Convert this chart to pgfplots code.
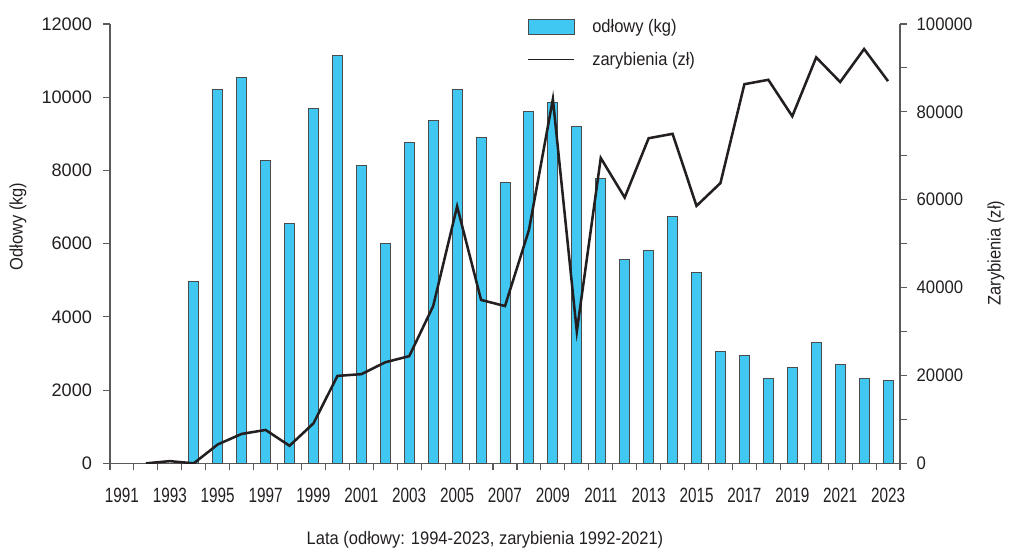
\documentclass[border=0pt]{standalone}
\usepackage{pgfplots}
\pgfplotsset{compat=1.18}
\usepackage{pgfplotstable}
\usepackage{fontspec}
\setmainfont[FakeStretch=0.91]{Liberation Sans}
\newfontfamily\xtfont[FakeStretch=0.74]{Liberation Sans}
\newfontfamily\ltfont{Liberation Sans}
\newfontfamily\rtfont[FakeStretch=0.92]{Liberation Sans}
\definecolor{barblue}{RGB}{64,200,242}
\definecolor{baredge}{RGB}{75,75,75}
\definecolor{axgray}{RGB}{90,90,90}
\definecolor{txt}{RGB}{35,31,32}

\pgfplotstableread{
year odl
1994 4960
1995 10220
1996 10530
1997 8270
1998 6545
1999 9680
2000 11150
2001 8140
2002 6000
2003 8760
2004 9370
2005 10220
2006 8890
2007 7660
2008 9620
2009 9860
2010 9190
2011 7770
2012 5570
2013 5820
2014 6740
2015 5210
2016 3060
2017 2940
2018 2320
2019 2630
2020 3300
2021 2690
2022 2320
2023 2270
}\odl

\pgfplotstableread{
year zar
1992 0
1993 500
1994 0
1995 4300
1996 6700
1997 7600
1998 4000
1999 9100
2000 19900
2001 20300
2002 23000
2003 24400
2004 35800
2005 58500
2006 37200
2007 35800
2008 53100
2009 82900
2010 30000
2011 69500
2012 60500
2013 74000
2014 75000
2015 58600
2016 63800
2017 86300
2018 87300
2019 79000
2020 92400
2021 86800
2022 94300
2023 87000
}\zar

\pgfplotsset{
  common/.style={
    at={(0pt,0pt)}, anchor=south west,
    scale only axis, width=592.5pt, height=329.5pt,
    xmin=1990.5, xmax=2023.5,
    tick align=outside,
    major tick length=0pt,
    minor tick length=5.25pt,
    tick style={axgray, line width=0.8pt},
    axis line style={axgray, line width=1pt},
    /pgf/number format/fixed,
    /pgf/number format/precision=0,
    /pgf/number format/1000 sep={},
    /pgf/number format/assume math mode=true,
    scaled y ticks=false,
    scaled x ticks=false,
    tick label style={text=txt},
    label style={text=txt, font=\fontsize{13.6}{16}\selectfont},
  }
}

\begin{document}
\begin{tikzpicture}
\begin{axis}[common,
  ymin=0, ymax=12000,
  axis x line*=bottom, axis y line*=left,
  xtick={1991,1993,...,2023},
  minor xtick={1990.5,1991.5,1992.5,1993.5,1994.5,1995.5,1996.5,1997.5,1998.5,1999.5,2000.5,2001.5,2002.5,2003.5,2004.5,2005.5,2006.5,2007.5,2008.5,2009.5,2010.5,2011.5,2012.5,2013.5,2014.5,2015.5,2016.5,2017.5,2018.5,2019.5,2020.5,2021.5,2022.5,2023.5},
  ytick={0,2000,...,12000},
  minor ytick={0,2000,...,12000},
  xticklabel style={font=\xtfont\fontsize{15.5}{18}\selectfont, yshift=-15pt},
  yticklabel style={font=\ltfont\fontsize{13.6}{16}\selectfont, xshift=-10pt},
  xlabel={Lata (odłowy: 1994-2023, zarybienia 1992-2021)},
  ylabel={Odłowy (kg)},
  xlabel style={at={(axis description cs:0.4747,-0.1746)}, anchor=center},
  ylabel style={at={(axis description cs:-0.1165,0.539)}, anchor=center},
]
\addplot[ybar, bar width=0.42, fill=barblue, draw=baredge, line width=0.7pt] table[x=year,y=odl]{\odl};
\end{axis}
\begin{axis}[common,
  ymin=0, ymax=100000,
  axis x line=none, axis y line*=right,
  xtick=\empty,
  ytick={0,20000,...,100000},
  minor ytick={0,10000,...,100000},
  yticklabel style={font=\rtfont\fontsize{13.6}{16}\selectfont, xshift=9pt},
  ylabel={Zarybienia (zł)},
  ylabel style={at={(axis description cs:1.1215,0.4787)}, anchor=center},
  legend style={at={(axis description cs:0.528,1.011)}, anchor=north west,
    draw=none, fill=none, inner sep=0pt, outer sep=0pt,
    row sep=12.5pt, column sep=12.75pt,
    font=\fontsize{13.6}{16}\selectfont, text=txt,
    nodes={inner sep=0pt, anchor=west}},
  legend cell align=left,
]
\addlegendimage{legend image code/.code={\filldraw[fill=barblue, draw=baredge, line width=0.9pt] (0.45pt,-5.6pt) rectangle (35.05pt,5.6pt);}}
\addlegendentry{odłowy (kg)}
\addplot[txt, line width=1.9pt, line join=miter, mark=none,
  legend image code/.code={\draw[txt, line width=1.2pt] (0pt,0pt) -- (34.5pt,0pt);}]
  table[x=year,y=zar]{\zar};
\addlegendentry{zarybienia (zł)}
\end{axis}
\pgfresetboundingbox
\path (-82.5pt,-65.8pt) rectangle (675pt,347.5pt);
\end{tikzpicture}
\end{document}
